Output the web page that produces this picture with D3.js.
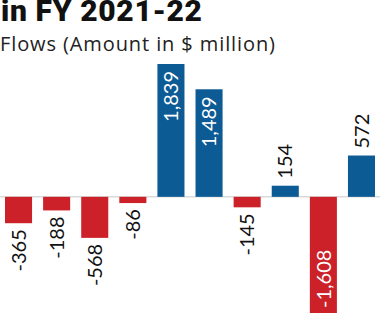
<!DOCTYPE html>
<html><head><meta charset="utf-8">
<script src="https://cdn.jsdelivr.net/npm/d3@7/dist/d3.min.js"></script>
<style>body{margin:0;background:#fff}svg{display:block}</style>
</head><body>
<script>
const categories = ["A","B","C","D","E","F","G","H","I","J"];
const values = [-365, -188, -568, -86, 1839, 1489, -145, 154, -1608, 572];
const labels = ["-365","-188","-568","-86","1,839","1,489","-145","154","-1,608","572"];
const insideLabels = [false,false,false,false,true,true,false,false,true,false];
const title = "in FY 2021-22";
const subtitle = "Flows (Amount in $ million)";

const W = 385, H = 321;
const svg = d3.select("body").append("svg").attr("width", W).attr("height", H);
const font = "Lato, 'Open Sans', sans-serif";

svg.append("text").attr("x", 1).attr("y", 21).text(title)
  .attr("font-family", "Roboto, sans-serif").attr("font-weight", 900).attr("font-size", 30)
  .attr("textLength", 201).attr("lengthAdjust", "spacing").attr("fill", "#111");
svg.append("text").attr("x", 0).attr("y", 51).text(subtitle)
  .attr("font-family", "'Open Sans', sans-serif").attr("font-weight", 400).attr("font-size", 20)
  .attr("textLength", 275).attr("lengthAdjust", "spacing").attr("fill", "#222");

const x = d3.scaleBand().domain(categories).range([5, 375]).paddingInner(0.29).paddingOuter(0);
const y = d3.scaleLinear().domain([-1608, 1839]).range([313, 64]);

svg.append("line").attr("x1", 0).attr("x2", 380).attr("y1", y(0)).attr("y2", y(0))
  .attr("stroke", "#c8c8c8").attr("stroke-width", 1);

const g = svg.append("g");
g.selectAll("rect").data(values).join("rect")
  .attr("x", (d, i) => x(categories[i]))
  .attr("width", x.bandwidth())
  .attr("y", d => y(Math.max(0, d)))
  .attr("height", d => Math.abs(y(d) - y(0)))
  .attr("fill", d => d < 0 ? "#cd2129" : "#0c5b95");

g.selectAll("text.lbl").data(values).join("text").attr("class", "lbl")
  .each(function(d, i) {
    const cx = x(categories[i]) + x.bandwidth() / 2;
    let py, anchor;
    const inside = insideLabels[i];
    if (d >= 0) {
      if (inside) { py = y(d) + 7; anchor = "end"; }
      else { py = y(d) - 7; anchor = "start"; }
    } else {
      if (inside) { py = y(d) - 5; anchor = "start"; }
      else { py = y(d) + 6; anchor = "end"; }
    }
    d3.select(this)
      .attr("transform", `translate(${cx},${py}) rotate(-90)`)
      .attr("dy", "0.36em")
      .attr("text-anchor", anchor)
      .attr("fill", inside ? "#fff" : "#111")
      .attr("font-family", font)
      .attr("font-size", 20)
      .text(labels[i]);
  });
</script>
</body></html>
